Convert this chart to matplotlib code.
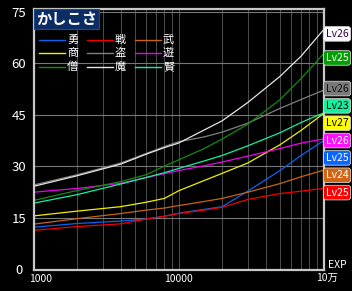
import matplotlib
matplotlib.use('Agg')
import matplotlib.pyplot as plt
import matplotlib.transforms as mtransforms
from matplotlib.ticker import NullFormatter

plt.rcParams['font.family'] = ['Noto Sans CJK JP', 'DejaVu Sans']

# EXP sample points (x axis, log scale)
exp = [1000, 2000, 4000, 6000, 8000, 10000, 15000, 20000, 30000, 50000, 70000, 100000]

# かしこさ per job
yuusha = [12.3, 13.4, 14.1, 14.7, 15.5, 16.4, 17.5, 18.3, 22.8, 28.8, 33.2, 37.5]   # 勇
senshi = [11.4, 12.5, 13.3, 14.7, 15.5, 16.3, 17.3, 18.1, 20.4, 22.1, 22.8, 23.6]   # 戦
bugeika = [13.2, 14.8, 16.3, 17.3, 17.9, 18.6, 19.8, 20.7, 22.5, 25.0, 27.0, 28.9]  # 武
shounin = [15.6, 17.0, 18.3, 19.6, 20.7, 22.9, 25.9, 28.0, 31.0, 36.3, 40.5, 45.4]  # 商
touzoku = [24.6, 27.6, 31.0, 33.8, 35.8, 37.2, 38.6, 40.0, 42.6, 46.9, 49.5, 52.2]  # 盗
asobi = [22.5, 23.6, 25.1, 26.8, 27.9, 28.8, 30.2, 31.3, 33.0, 35.2, 36.8, 38.0]    # 遊
souryo = [20.1, 23.0, 25.6, 27.6, 30.1, 31.9, 35.2, 38.0, 42.3, 49.4, 55.6, 62.8]   # 僧
mahou = [24.2, 27.3, 30.7, 33.6, 35.5, 36.8, 40.6, 43.3, 48.6, 56.2, 62.1, 69.8]    # 魔
kenja = [19.3, 21.8, 24.9, 26.8, 28.2, 29.4, 31.6, 33.2, 36.0, 39.8, 42.8, 45.6]    # 賢

names = ['勇', '戦', '武', '商', '盗', '遊', '僧', '魔', '賢']
levels = [25, 25, 24, 27, 26, 26, 25, 26, 23]
series = [yuusha, senshi, bugeika, shounin, touzoku, asobi, souryo, mahou, kenja]

line_colors = ['#0a64f0', '#f00000', '#c86414', '#f0f000', '#808080',
               '#f000f0', '#108c10', '#e6e6e6', '#14f0a0']
box_colors = ['#0a64ff', '#ff0000', '#d26414', '#ffff00', '#7a7a7a',
              '#ff10ff', '#00a000', '#ffffff', '#14f0a0']
text_colors = ['white', 'white', 'white', 'black', '#101010',
               'white', 'white', '#300040', 'black']

W, H = 352, 291
fig = plt.figure(figsize=(W / 100, H / 100), dpi=100)
fig.patch.set_facecolor('black')
ax = fig.add_axes([33.5 / W, (H - 269.5) / H, 290 / W, 261 / H])
ax.set_facecolor('black')

for ys, c in zip(series, line_colors):
    ax.plot(exp, ys, color=c, lw=0.9, solid_joinstyle='round')

ax.set_xscale('log')
ax.set_xlim(1000, 100000)
ax.set_ylim(0, 76)
ax.set_yticks([0, 15, 30, 45, 60, 75])
ax.set_xticks([1000, 10000])
ax.set_xticklabels(['1000', '10000'])
ax.xaxis.set_minor_formatter(NullFormatter())
ax.tick_params(which='both', length=0, colors='white')
ax.tick_params(axis='y', labelsize=9.5, pad=10.5)
ax.tick_params(axis='x', labelsize=7.5, pad=3)
for lab in ax.get_yticklabels():
    lab.set_horizontalalignment('center')
first = ax.get_xticklabels()[0]
first.set_horizontalalignment('left')
first.set_transform(first.get_transform() + mtransforms.ScaledTranslation(-4 / 100, 0, fig.dpi_scale_trans))

ax.grid(which='both', axis='x', color='#484848', lw=0.8)
ax.grid(which='major', axis='y', color='#787878', lw=0.8)
ax.set_axisbelow(True)
for sp in ax.spines.values():
    sp.set_color('#c8c8c8')
    sp.set_linewidth(1.6)

# title
fig.text(66.5 / W, 1 - 19 / H, 'かしこさ', color='white', fontsize=11, fontweight='bold',
         ha='center', va='center',
         bbox=dict(boxstyle='square,pad=0.1', facecolor='#0c2c64', edgecolor='#1a4a90', lw=0.8))

# legend (3 x 3)
col_x = [39, 87, 135]
row_y = [39.5, 53, 67]
for i, (nm, c) in enumerate(zip(names, line_colors)):
    r, k = divmod(i, 3)
    x0 = col_x[k]
    y0 = 1 - row_y[r] / H
    fig.add_artist(plt.Line2D([x0 / W, (x0 + 26) / W], [y0, y0], color=c, lw=1.0,
                              transform=fig.transFigure))
    fig.text((x0 + 28) / W, y0, nm, color='white', fontsize=8, ha='left', va='center')

# level labels on the right, spread so they don't overlap
ends = [s[-1] for s in series]
order = sorted(range(len(series)), key=lambda i: -ends[i])
pos = [ends[i] - 1.2 for i in order]
gap = 5.05
for _ in range(500):
    for k in range(len(pos) - 1):
        d = pos[k] - pos[k + 1]
        if d < gap:
            sh = (gap - d) / 2
            pos[k] += sh
            pos[k + 1] -= sh
trans = mtransforms.blended_transform_factory(ax.transAxes, ax.transData)
for i, p in zip(order, pos):
    ax.text(1 + 13.5 / 290, p, 'Lv%d' % levels[i], transform=trans, clip_on=False,
            ha='center', va='center', fontsize=7.5, color=text_colors[i],
            bbox=dict(boxstyle='round,pad=0.22,rounding_size=0.25',
                      facecolor=box_colors[i], edgecolor='#d0d0d0', lw=0.6))

fig.text(337 / W, 1 - 265 / H, 'EXP', color='white', fontsize=7.5, ha='center', va='center')
fig.text(327 / W, 1 - 278 / H, '10万', color='white', fontsize=7.5, ha='center', va='center')

fig.savefig('out.png', dpi=100, facecolor='black')
